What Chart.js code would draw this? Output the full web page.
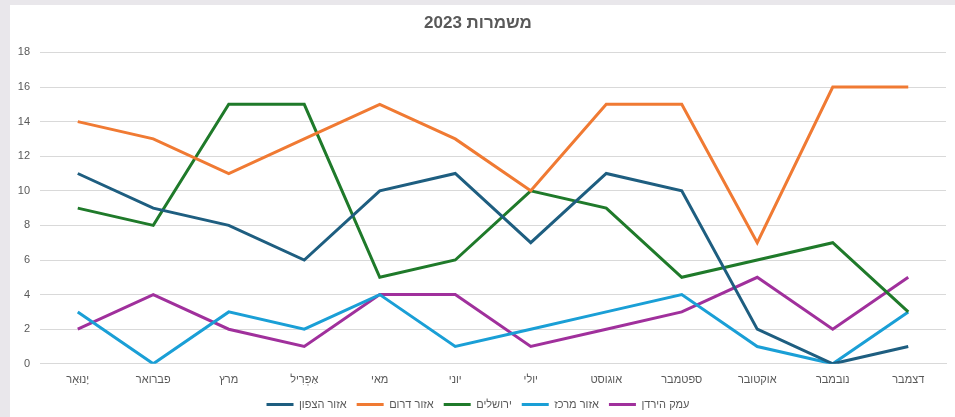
<!DOCTYPE html>
<html>
<head>
<meta charset="utf-8">
<script src="https://cdn.jsdelivr.net/npm/chart.js@4"></script>
<style>
  html, body { margin: 0; padding: 0; background: #e9e7eb; }
  #box { position: absolute; left: 10px; top: 5px; width: 945px; height: 412px; background: #fff; }
</style>
</head>
<body>
<div id="box"><canvas id="shifts"></canvas></div>
<script>
// months (x axis)
const months = ["יָנוּאָר", "פברואר", "מרץ", "אַפְּרִיל", "מאי", "יוני", "יולי", "אוגוסט", "ספטמבר", "אוקטובר", "נובמבר", "דצמבר"];

// shifts per region
const north = [11, 9, 8, 6, 10, 11, 7, 11, 10, 2, 0, 1];
const south = [14, 13, 11, 13, 15, 13, 10, 15, 15, 7, 16, 16];
const jerusalem = [9, 8, 15, 15, 5, 6, 10, 9, 5, 6, 7, 3];
const center = [3, 0, 3, 2, 4, 1, 2, 3, 4, 1, 0, 3];
const jordanValley = [2, 4, 2, 1, 4, 4, 1, 2, 3, 5, 2, 5];

const seriesNames = ["אזור הצפון", "אזור דרום", "ירושלים", "אזור מרכז", "עמק הירדן"];
const seriesColors = ["#1e5e80", "#f07a33", "#1f7a2a", "#1a9fd6", "#a0309c"];

const allSeries = [north, south, jerusalem, center, jordanValley];
const font = "'Liberation Sans', Arial, sans-serif";

new Chart(document.getElementById("shifts"), {
  type: "line",
  data: {
    labels: months,
    datasets: allSeries.map((vals, i) => ({
      label: seriesNames[i],
      data: vals,
      borderColor: seriesColors[i],
      backgroundColor: seriesColors[i],
      borderWidth: 3,
      pointRadius: 0,
      tension: 0
    }))
  },
  options: {
    responsive: true,
    maintainAspectRatio: false,
    animation: false,
    layout: { padding: { left: 0, right: 9, top: 0, bottom: -3 } },
    plugins: {
      title: {
        display: true,
        text: "משמרות 2023",
        color: "#595959",
        font: { family: font, size: 17, weight: "bold" },
        padding: { top: 8, bottom: 19 }
      },
      legend: {
        position: "bottom",
        labels: {
          color: "#595959",
          font: { family: font, size: 11 },
          boxWidth: 27,
          boxHeight: 3,
          padding: 10,
          generateLabels: chart => Chart.defaults.plugins.legend.labels.generateLabels(chart)
            .map(l => Object.assign(l, { lineWidth: 0 }))
        }
      },
      tooltip: { enabled: false }
    },
    scales: {
      x: {
        offset: true,
        grid: { display: false },
        border: { color: "#d9d9d9" },
        ticks: { color: "#595959", font: { family: font, size: 11 }, padding: 2, maxRotation: 0 }
      },
      y: {
        min: 0,
        max: 18,
        grid: { color: "#d9d9d9", drawTicks: false },
        border: { display: false },
        ticks: { stepSize: 2, color: "#595959", font: { family: font, size: 11 }, padding: 10 },
        afterFit: s => { s.width = 30; }
      }
    }
  }
});
</script>
</body>
</html>
